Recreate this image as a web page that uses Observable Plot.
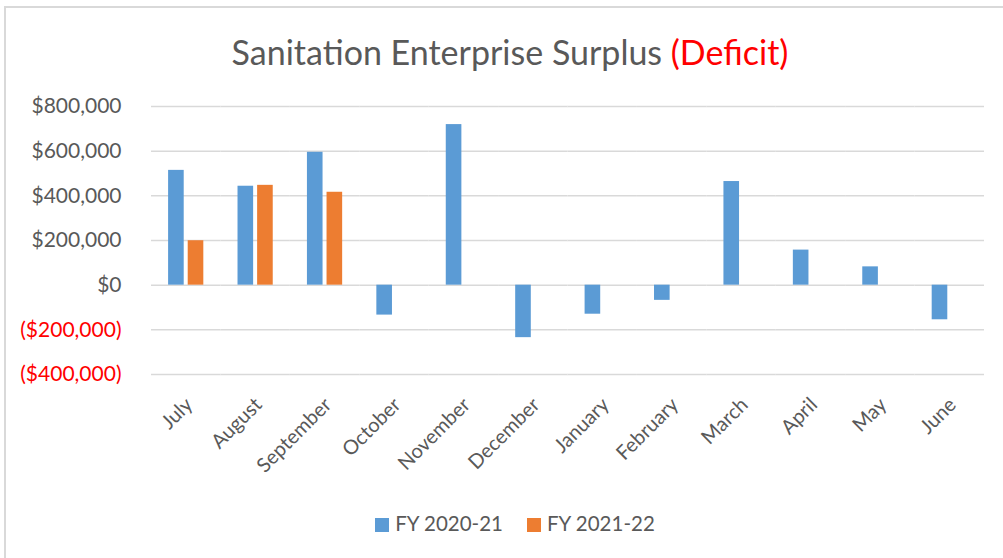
<!DOCTYPE html>
<html>
<head>
<meta charset="utf-8">
<script src="https://cdn.jsdelivr.net/npm/d3@7"></script>
<script src="https://cdn.jsdelivr.net/npm/@observablehq/plot@0.6"></script>
<style>
  html, body { margin: 0; padding: 0; background: #fff; }
  #wrap { position: relative; width: 1003px; height: 558px; overflow: hidden; font-family: Lato, "Open Sans", sans-serif; }
  #frame { position: absolute; left: 4px; top: 6px; width: 1010px; height: 570px; border: 2px solid #d9d9d9; box-sizing: border-box; }
  #title { position: absolute; left: 0; width: 1020px; top: 32px; text-align: center; font-size: 34px; line-height: 40px; color: #595959; white-space: nowrap; }
  #title .red { color: #ff0000; }
  #chart { position: absolute; left: 0; top: 0; }
  #legend { position: absolute; top: 511px; left: 0; width: 1030px; text-align: center; font-size: 20.5px; color: #595959; white-space: nowrap; }
  #legend .item { display: inline-block; margin: 0 12px; }
  #legend .sw { display: inline-block; width: 14px; height: 14px; margin-right: 6px; vertical-align: -1px; }
</style>
</head>
<body>
<div id="wrap">
  <div id="frame"></div>
  <div id="title">Sanitation Enterprise Surplus <span class="red">(Deficit)</span></div>
  <div id="chart"></div>
  <div id="legend"></div>
</div>
<script>
const months = ["July","August","September","October","November","December","January","February","March","April","May","June"];
const seriesNames = ["FY 2020-21", "FY 2021-22"];
const fy2021 = [514000, 443000, 595000, -134000, 719000, -235000, -130000, -68000, 464000, 157000, 82000, -155000];
const fy2122 = [199000, 447000, 416000, null, null, null, null, null, null, null, null, null];
const yTicks = [-400000, -200000, 0, 200000, 400000, 600000, 800000];
const colors = ["#5B9BD5", "#ED7D31"];

const rows = [];
months.forEach((m, i) => {
  if (fy2021[i] != null) rows.push({month: m, series: seriesNames[0], value: fy2021[i]});
  if (fy2122[i] != null) rows.push({month: m, series: seriesNames[1], value: fy2122[i]});
});

const fmt = d3.format(",");
const money = d => d < 0 ? `($${fmt(-d)})` : `$${fmt(d)}`;

const chart = Plot.plot({
  width: 1003,
  height: 558,
  marginLeft: 151,
  marginRight: 19,
  marginTop: 106,
  marginBottom: 184,
  style: {fontFamily: "Lato, 'Open Sans', sans-serif", background: "transparent", overflow: "visible"},
  fx: {domain: months, paddingInner: 0, paddingOuter: 0, round: false},
  x: {domain: seriesNames, paddingInner: 0.204, paddingOuter: 0.872, round: false},
  y: {domain: [-400000, 800000], nice: false, label: null},
  color: {domain: seriesNames, range: colors},
  marks: [
    Plot.gridY(yTicks, {stroke: "#d9d9d9", strokeOpacity: 1, strokeWidth: 1.5}),
    Plot.barY(rows, {fx: "month", x: "series", y: "value", fill: "series"}),
    Plot.axisY(yTicks, {tickSize: 0, tickPadding: 30, tickFormat: money, fontSize: 21, label: null,
      fill: d => d < 0 ? "#ff0000" : "#595959", anchor: "left"}),
    Plot.axisFx({tickRotate: -45, tickSize: 0, tickPadding: 27, dx: 3, fontSize: 20, fill: "#595959", label: null, anchor: "bottom"}),
    Plot.axisX({ticks: [], label: null})
  ]
});
document.getElementById("chart").appendChild(chart);

const legend = document.getElementById("legend");
seriesNames.forEach((s, i) => {
  const item = document.createElement("span");
  item.className = "item";
  const sw = document.createElement("span");
  sw.className = "sw";
  sw.style.background = colors[i];
  item.appendChild(sw);
  item.appendChild(document.createTextNode(s));
  legend.appendChild(item);
});
</script>
</body>
</html>
